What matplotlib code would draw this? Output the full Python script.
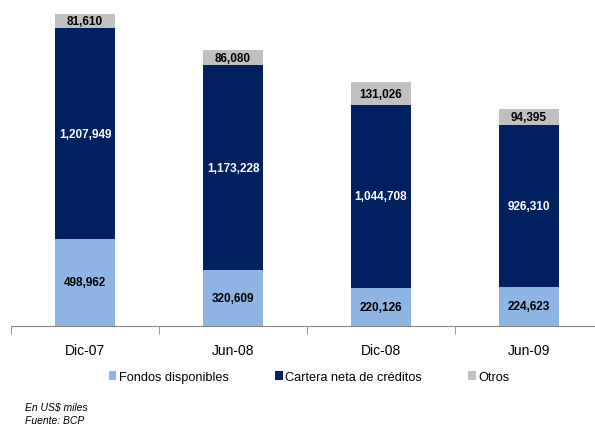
import matplotlib.pyplot as plt
import numpy as np

categorias = ["Dic-07", "Jun-08", "Dic-08", "Jun-09"]
fondos = [498962, 320609, 220126, 224623]
cartera = [1207949, 1173228, 1044708, 926310]
otros = [81610, 86080, 131026, 94395]

series = [
    ("Fondos disponibles", fondos, "#8EB4E3", "black"),
    ("Cartera neta de créditos", cartera, "#002060", "white"),
    ("Otros", otros, "#C0C0C0", "black"),
]

plt.rcParams['font.family'] = ['Liberation Sans', 'DejaVu Sans']

fig = plt.figure(figsize=(5.95, 4.27), dpi=100)
# axes spans past the right edge like the original
ax = fig.add_axes([11 / 595, 1 - 327 / 427, 592 / 595, (327 - 15) / 427])

x = np.arange(len(categorias))
bottom = np.zeros(len(categorias))
for name, vals, color, tcolor in series:
    vals = np.array(vals)
    ax.bar(x, vals, width=0.4, bottom=bottom, color=color, label=name,
           edgecolor="none")
    for xi, b, v in zip(x, bottom, vals):
        ax.text(xi, b + v / 2, f"{v:,}", ha="center", va="center",
                fontsize=8.5, fontweight="bold", color=tcolor)
    bottom += vals

ax.set_xlim(-0.5, 3.5)
ax.set_ylim(0, bottom.max())
for s in ["top", "right", "left"]:
    ax.spines[s].set_visible(False)
ax.spines["bottom"].set_color("#868686")
ax.set_yticks([])
ax.set_xticks(x)
ax.set_xticklabels(categorias, fontsize=10)
ax.tick_params(axis="x", which="major", length=0, pad=12)
ax.set_xticks(np.arange(-0.5, 4, 1), minor=True)
ax.tick_params(axis="x", which="minor", length=6, color="#868686")

fig.legend(loc="center", bbox_to_anchor=(309 / 595, 1 - 378 / 427), ncol=3,
           frameon=False, fontsize=9.2, handlelength=0.6, handleheight=0.6,
           handletextpad=0.2, columnspacing=3.6)

fig.text(25 / 595, 1 - 408 / 427, "En US$ miles", fontsize=7.5,
         style="italic", va="center")
fig.text(25 / 595, 1 - 421 / 427, "Fuente: BCP", fontsize=7.5,
         style="italic", va="center")

fig.savefig("out.png", dpi=100)
